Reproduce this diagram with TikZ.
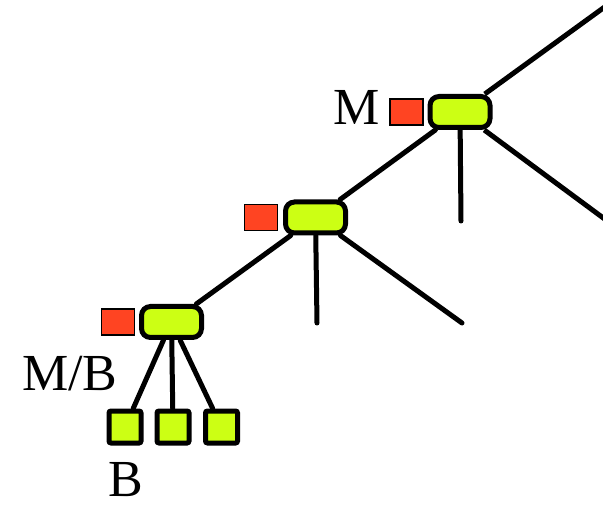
\documentclass[tikz,border=0pt]{standalone}
\usepackage{fontspec}
\setmainfont{Liberation Serif}
\usetikzlibrary{positioning}
\definecolor{hubgreen}{HTML}{CCFF14}
\definecolor{tagred}{HTML}{FF4422}
\tikzset{
  hub/.style={draw=black,line width=5pt,fill=hubgreen,minimum width=60pt,minimum height=31pt,inner sep=0pt,rounded corners=9pt},
  tag/.style={draw=black,line width=1.2pt,fill=tagred,minimum width=33pt,minimum height=26pt,inner sep=0pt},
  leafbox/.style={draw=black,line width=5pt,fill=hubgreen,minimum size=32pt,inner sep=0pt,rounded corners=2pt},
  branch/.style={line width=5pt,line cap=round},
  lbl/.style={inner sep=0pt,font=\fontsize{52}{60}\selectfont},
}
\begin{document}
\begin{tikzpicture}[x=1pt,y=1pt]
    \useasboundingbox (0,0) rectangle (603,-505);
    % open ends of the branches
    \coordinate (e1) at (606,-6);
    \coordinate (e2) at (461,-221);
    \coordinate (e3) at (606,-220);
    \coordinate (e4) at (317,-323);
    \coordinate (e5) at (462,-323);
    % hubs along the spine
    \node[hub] (h1) at (460,-112) {};
    \node[hub] (h2) at (315.5,-217.5) {};
    \node[hub] (h3) at (171.5,-322) {};
    \node[leafbox] (b1) at (125,-427) {};
    \node[leafbox] (b2) at (173,-427) {};
    \node[leafbox] (b3) at (221.5,-427) {};
    \draw[branch,line cap=butt] (h1) -- (e1);
    \draw[branch] (h1) -- (e2); \draw[branch,line cap=butt] (h1) -- (e3);
    \draw[branch] (h2) -- (h1);
    \draw[branch] (h2) -- (e4); \draw[branch] (h2) -- (e5);
    \draw[branch] (h3) -- (h2);
    \draw[branch] (h3) -- (b1); \draw[branch] (h3) -- (b2); \draw[branch] (h3) -- (b3);
    % red tags beside each hub
    \node[tag,left=4pt of h1] (t1) {};
    \node[tag,left=5pt of h2] (t2) {};
    \node[tag,left=4pt of h3] (t3) {};
    % labels
    \node[lbl,anchor=base east] (m) at (380,-125) {M};
    \node[lbl,anchor=base west] (mb) at (22,-390) {M/B};
    \node[lbl,anchor=base] (b) at (126,-496) {B};
  \end{tikzpicture}
\end{document}
